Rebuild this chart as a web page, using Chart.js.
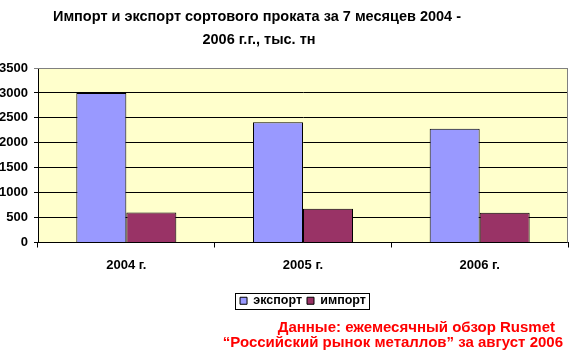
<!DOCTYPE html>
<html>
<head>
<meta charset="utf-8">
<script src="https://cdn.jsdelivr.net/npm/chart.js@4"></script>
<style>
  html, body { margin: 0; padding: 0; background: #fff; }
  #wrap { width: 570px; height: 352px; }
</style>
</head>
<body>
<div id="wrap"><canvas id="chart" width="570" height="352"></canvas></div>
<script>
// data
const years = ['2004 г.', '2005 г.', '2006 г.'];
const exportValues = [3000, 2410, 2280];
const importValues = [600, 675, 595];
const seriesNames = ['экспорт', 'импорт'];
const titleLines = ['Импорт и экспорт сортового проката за 7 месяцев 2004 -', '2006 г.г., тыс. тн'];
const sourceLines = ['Данные: ежемесячный обзор Rusmet', '“Российский рынок металлов” за август 2006'];

const FONT = 'Arial, "Liberation Sans", sans-serif';

// yellow plot area + grey frame
const plotArea = {
    id: 'plotArea',
    beforeDraw(chart) {
        const a = chart.chartArea;
        const c = chart.ctx;
        c.save();
        c.fillStyle = '#FFFFCC';
        c.fillRect(a.left, a.top, a.right - a.left, a.bottom - a.top);
        c.restore();
    },
    afterDatasetsDraw(chart) {
        const a = chart.chartArea;
        const c = chart.ctx;
        c.save();
        c.strokeStyle = '#808080';
        c.lineWidth = 1;
        c.beginPath();
        c.moveTo(a.left, Math.round(a.top) + 0.5);
        c.lineTo(Math.round(a.right) - 0.5, Math.round(a.top) + 0.5);
        c.lineTo(Math.round(a.right) - 0.5, a.bottom);
        c.stroke();
        c.restore();
    }
};

// title (a bit left of centre) and the red source note
const texts = {
    id: 'texts',
    afterDraw(chart) {
        const c = chart.ctx;
        c.save();
        c.fillStyle = '#000';
        c.font = 'bold 14.5px ' + FONT;
        c.textAlign = 'center';
        c.textBaseline = 'middle';
        c.fillText(titleLines[0], 257, 17);
        c.fillText(titleLines[1], 259, 40);

        c.fillStyle = '#FF0000';
        c.font = 'bold 15px ' + FONT;
        c.textAlign = 'right';
        c.textBaseline = 'alphabetic';
        c.fillText(sourceLines[0], 555, 332);
        c.fillText(sourceLines[1], 563, 347);
        c.restore();
    }
};

// frame round the legend
const legendFrame = {
    id: 'legendFrame',
    afterDraw(chart) {
        const boxes = chart.legend.legendHitBoxes;
        if (!boxes || !boxes.length) return;
        let l = Infinity, t = Infinity, r = -Infinity, b = -Infinity;
        boxes.forEach(h => {
            l = Math.min(l, h.left); t = Math.min(t, h.top);
            r = Math.max(r, h.left + h.width); b = Math.max(b, h.top + h.height);
        });
        const c = chart.ctx;
        c.save();
        c.strokeStyle = '#000';
        c.lineWidth = 1;
        c.strokeRect(Math.round(l - 5) + 0.5, Math.round(t - 2) + 0.5, Math.round(r - l + 8), Math.round(b - t + 3));
        c.restore();
    }
};

new Chart(document.getElementById('chart'), {
    type: 'bar',
    data: {
        labels: years,
        datasets: [
            {
                label: seriesNames[0],
                data: exportValues,
                backgroundColor: '#9999FF',
                borderColor: '#000',
                borderWidth: 1,
                categoryPercentage: 0.566,
                barPercentage: 1
            },
            {
                label: seriesNames[1],
                data: importValues,
                backgroundColor: '#993366',
                borderColor: '#000',
                borderWidth: 1,
                categoryPercentage: 0.566,
                barPercentage: 1
            }
        ]
    },
    options: {
        responsive: false,
        animation: false,
        devicePixelRatio: 1,
        layout: { padding: { left: 0, right: 2, top: 68, bottom: 35 } },
        plugins: {
            title: { display: false },
            legend: {
                position: 'bottom',
                fullSize: false,
                labels: {
                    color: '#000',
                    font: { family: FONT, size: 12.5, weight: 'bold' },
                    boxWidth: 7,
                    boxHeight: 7,
                    padding: 5,
                    generateLabels(chart) {
                        return chart.data.datasets.map((ds, i) => ({
                            text: ds.label,
                            fillStyle: ds.backgroundColor,
                            strokeStyle: '#000',
                            lineWidth: 1,
                            datasetIndex: i
                        }));
                    }
                }
            },
            tooltip: { enabled: false }
        },
        scales: {
            x: {
                afterFit(scale) { scale.height = 47; },
                grid: {
                    display: true,
                    drawOnChartArea: false,
                    drawTicks: true,
                    tickLength: 5,
                    offset: true,
                    color: '#000'
                },
                border: { color: '#000', width: 1 },
                ticks: {
                    color: '#000',
                    font: { family: FONT, size: 13, weight: 'bold' },
                    padding: 10,
                    maxRotation: 0
                }
            },
            y: {
                min: 0,
                max: 3500,
                afterFit(scale) { scale.width = 38; },
                grid: {
                    color: ctx => (ctx.tick && ctx.tick.value === 3500 ? '#808080' : '#000'),
                    tickLength: 4
                },
                border: { color: '#000', width: 1 },
                ticks: {
                    stepSize: 500,
                    color: '#000',
                    font: { family: FONT, size: 13, weight: 'bold' },
                    padding: 6,
                    callback: v => String(v)
                }
            }
        }
    },
    plugins: [plotArea, texts, legendFrame]
});
</script>
</body>
</html>
